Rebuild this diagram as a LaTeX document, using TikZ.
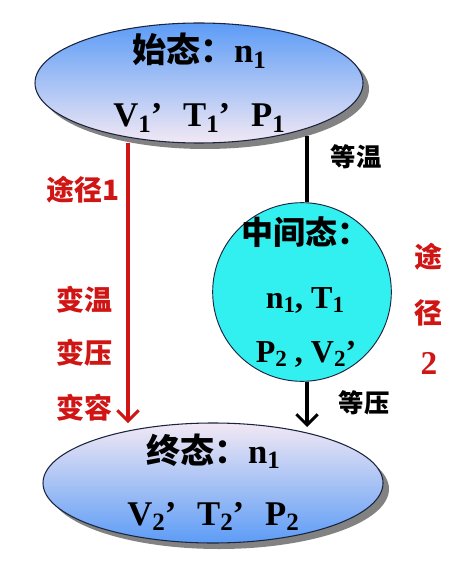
\documentclass[tikz,border=0pt]{standalone}
\usepackage{fontspec}
\usepackage{graphicx}
\setmainfont{Liberation Serif}
\newfontfamily\cjk{Noto Sans CJK SC}
\usetikzlibrary{arrows.meta,shapes.geometric,shadows}
\newcommand\myfs[1]{\fontsize{#1}{#1}\selectfont}
\newcommand\lsub[1]{\raisebox{-0.32ex}{\scalebox{0.72}{#1}}}
\definecolor{eblue}{HTML}{5C9CF6}
\definecolor{emid}{HTML}{86B6F2}
\definecolor{epink}{HTML}{F2E8F4}
\definecolor{ecyan}{HTML}{33F0F0}
\definecolor{ered}{HTML}{D01515}
\definecolor{eline}{HTML}{1A2440}
\tikzset{
  state/.style={ellipse, draw=eline, line width=0.8pt, inner sep=0pt,
    minimum width=246pt, minimum height=90pt,
    drop shadow={shadow xshift=4.5pt, shadow yshift=-4.5pt, fill=gray!85!black, opacity=0.85}},
  midstate/.style={circle, draw=eline, line width=0.7pt, fill=ecyan, inner sep=0pt, minimum size=134pt},
  bigtxt/.style={font=\bfseries\myfs{26pt}, inner sep=0pt, anchor=base},
  redlbl/.style={font=\cjk\bfseries\myfs{21pt}, text=ered, inner sep=0pt},
  blklbl/.style={font=\cjk\bfseries\myfs{19pt}, text=black, inner sep=0pt},
  barb/.tip={Straight Barb[length=8pt,width=16pt,line width=2.2pt]},
}
\begin{document}
\begin{tikzpicture}[x=0.75pt,y=-0.75pt]
\useasboundingbox (0,0) rectangle (460,570);
% states
\node[state, top color=eblue, middle color=emid, bottom color=epink] (top) at (199,83) {};
\node[state, top color=epink, middle color=emid, bottom color=eblue, minimum width=255pt] (bot) at (213,483) {};
\node[midstate] (mid) at (302,292) {};
% texts in top ellipse
\node[bigtxt] (t1) at (199,63) {{\cjk\bfseries\myfs{25.5pt}始态：}n\lsub{1}};
\node[bigtxt] (t2) at (199,127) {V\lsub{1}’\hspace{0.6em}T\lsub{1}’\hspace{0.6em}P\lsub{1}};
% texts in circle
\node[bigtxt] (m1) at (305,244) {{\cjk\bfseries\myfs{24pt}中间态：}};
\node[bigtxt, font=\bfseries\myfs{24pt}] (m2) at (305,308) {n\lsub{1}, T\lsub{1}};
\node[bigtxt, font=\bfseries\myfs{24pt}] (m3) at (306,362) {P\lsub{2} , V\lsub{2}’};
% texts in bottom ellipse
\node[bigtxt] (b1) at (213,463) {{\cjk\bfseries\myfs{25.5pt}终态：}n\lsub{1}};
\node[bigtxt] (b2) at (213,525) {V\lsub{2}’\hspace{0.6em}T\lsub{2}’\hspace{0.6em}P\lsub{2}};
% path 1
\coordinate (r1) at (128,143);
\coordinate (r2) at (128,423);
\draw[ered, line width=2.4pt, -{barb}] (r1) -- (r2);
\node[redlbl] (p1) at (83,190) {途径1};
\node[redlbl] (p2) at (84,300) {变温};
\node[redlbl] (p3) at (84,353) {变压};
\node[redlbl] (p4) at (84,408) {变容};
% path 2
\coordinate (k1) at (307,136);
\coordinate (k2) at (307,427);
\draw[black, line width=2.4pt] (k1) -- (k1 |- mid.north);
\draw[black, line width=2.4pt, -{barb}] (k1 |- mid.south) -- (k2);
\node[blklbl] (l1) at (356,157) {等温};
\node[blklbl] (l2) at (364,403) {等压};
\node[redlbl] (q1) at (428,257) {途};
\node[redlbl] (q2) at (428,313) {径};
\node[redlbl, font=\bfseries\myfs{25pt}] (q3) at (429,363) {2};
\end{tikzpicture}
\end{document}
